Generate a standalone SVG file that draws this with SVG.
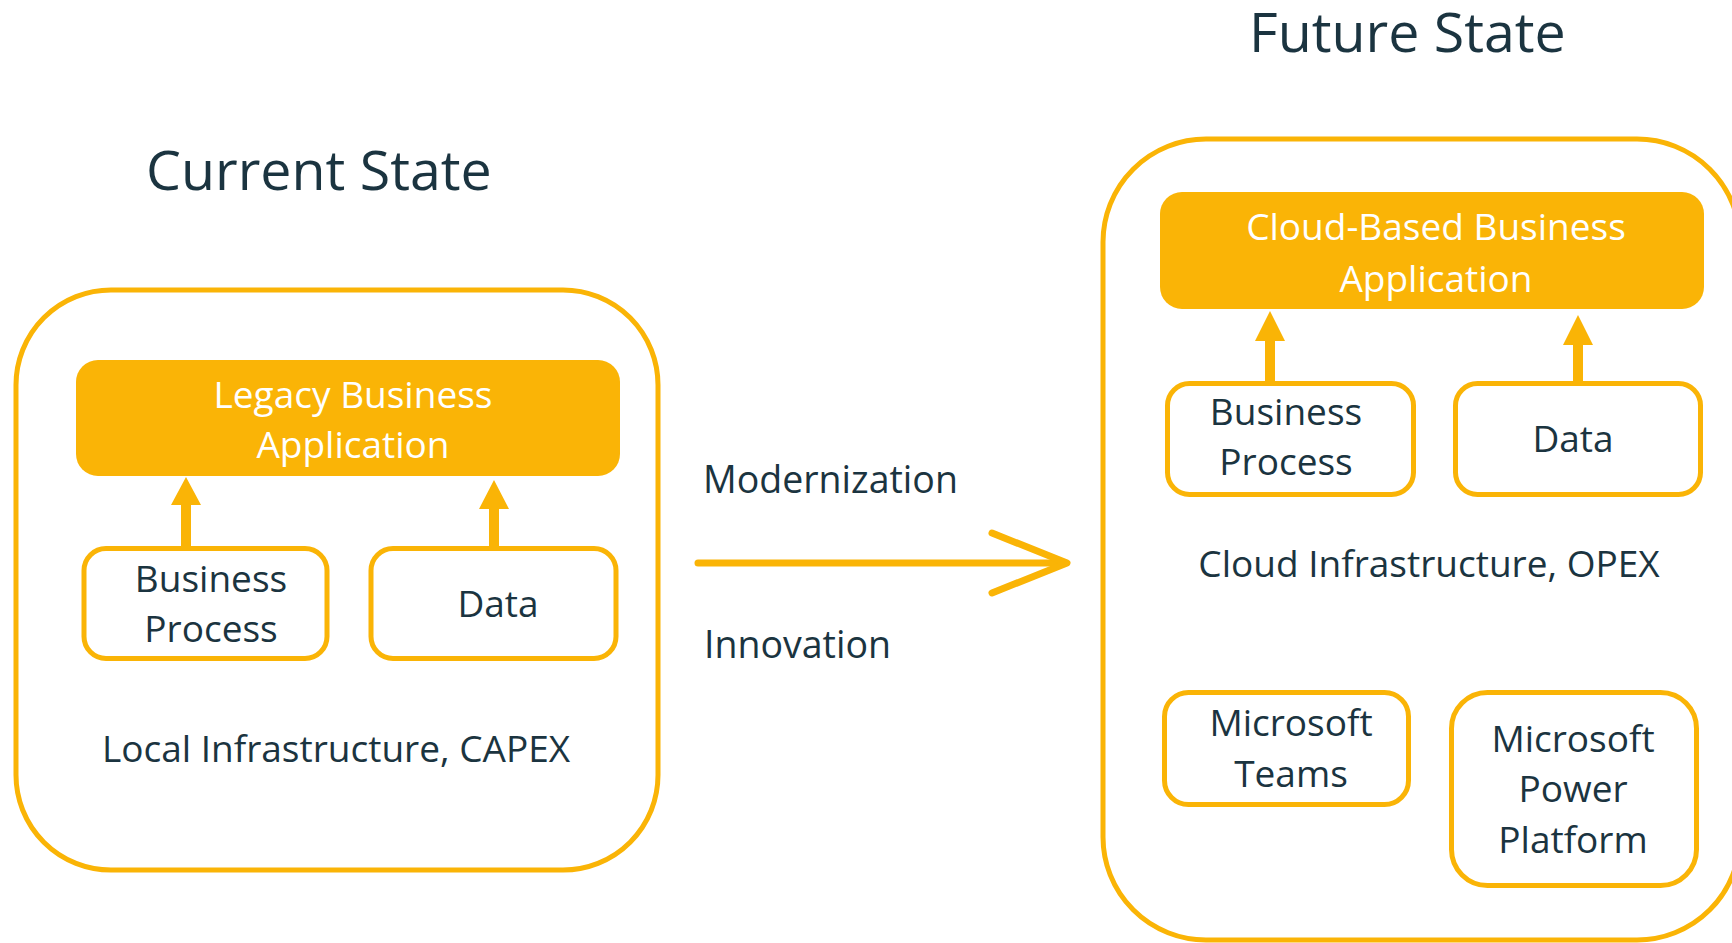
<svg xmlns="http://www.w3.org/2000/svg" width="1732" height="943" viewBox="0 0 1732 943">
<style>
.frame{fill:#fff;stroke:#FAB406;stroke-width:5}
.box{fill:#fff;stroke:#FAB406;stroke-width:5}
.app{fill:#FAB406;stroke:none}
.t{font-family:"Open Sans","Noto Sans",sans-serif;font-size:37px;fill:#1B3440;text-anchor:middle}
.w{fill:#fff}
.title{font-family:"Open Sans","Noto Sans",sans-serif;font-size:55.5px;fill:#1B3440}
.lbl{font-family:"Open Sans","Noto Sans",sans-serif;font-size:37.5px;fill:#1B3440}
.arr{fill:#FAB406}
.big{fill:none;stroke:#FAB406;stroke-width:7;stroke-linecap:round;stroke-linejoin:round}
</style>
<rect width="1732" height="943" fill="#fff"/>
<text class="title" x="146" y="190">Current State</text>
<text class="title" x="1249" y="52">Future State</text>

<g id="current-state">
<rect class="frame" x="16" y="290" width="642" height="580" rx="95"/>
<text class="t" x="336" y="762">Local Infrastructure, CAPEX</text>
</g>
<g id="future-state">
<rect class="frame" x="1103" y="139" width="637" height="801" rx="103"/>
<text class="t" x="1429" y="577">Cloud Infrastructure, OPEX</text>
</g>

<g id="legacy-app">
<rect class="app" x="76" y="360" width="544" height="116" rx="22"/>
<text class="t w" x="353" y="408">Legacy Business</text>
<text class="t w" x="353" y="458">Application</text>
</g>
<g id="bp-left">
<rect class="box" x="84" y="548.5" width="243" height="110" rx="22"/>
<text class="t" x="211" y="592">Business</text>
<text class="t" x="211" y="642">Process</text>
</g>
<g id="data-left">
<rect class="box" x="371" y="548.5" width="245" height="110" rx="22"/>
<text class="t" x="498" y="617">Data</text>
</g>

<g id="cloud-app">
<rect class="app" x="1160" y="192" width="544" height="117" rx="22"/>
<text class="t w" x="1436" y="240">Cloud-Based Business</text>
<text class="t w" x="1436" y="292">Application</text>
</g>
<g id="bp-right">
<rect class="box" x="1167.5" y="383.5" width="246" height="111" rx="22"/>
<text class="t" x="1286" y="425">Business</text>
<text class="t" x="1286" y="475">Process</text>
</g>
<g id="data-right">
<rect class="box" x="1455.5" y="383.5" width="245" height="111" rx="22"/>
<text class="t" x="1573" y="452">Data</text>
</g>
<g id="teams">
<rect class="box" x="1164.5" y="692.5" width="244" height="112" rx="24"/>
<text class="t" x="1291" y="736">Microsoft</text>
<text class="t" x="1291" y="787">Teams</text>
</g>
<g id="power-platform">
<rect class="box" x="1451.5" y="692.5" width="245" height="193" rx="36"/>
<text class="t" x="1573" y="752">Microsoft</text>
<text class="t" x="1573" y="802">Power</text>
<text class="t" x="1573" y="853">Platform</text>
</g>

<g id="connectors">
<path class="arr" d="M186,477 L201,505 L191,505 L191,546 L181,546 L181,505 L171,505 Z"/>
<path class="arr" d="M494,480 L509,509 L499,509 L499,547 L489,547 L489,509 L479,509 Z"/>
<path class="arr" d="M1270,311 L1285,341 L1275,341 L1275,381 L1265,381 L1265,341 L1255,341 Z"/>
<path class="arr" d="M1578,315 L1593,345 L1583,345 L1583,381 L1573,381 L1573,345 L1563,345 Z"/>
<line class="big" x1="698" y1="563" x2="1064" y2="563"/>
<polyline class="big" points="992,533 1067,563 992,593"/>
<text class="lbl" x="703" y="493">Modernization</text>
<text class="lbl" x="704" y="658">Innovation</text>
</g>
</svg>
